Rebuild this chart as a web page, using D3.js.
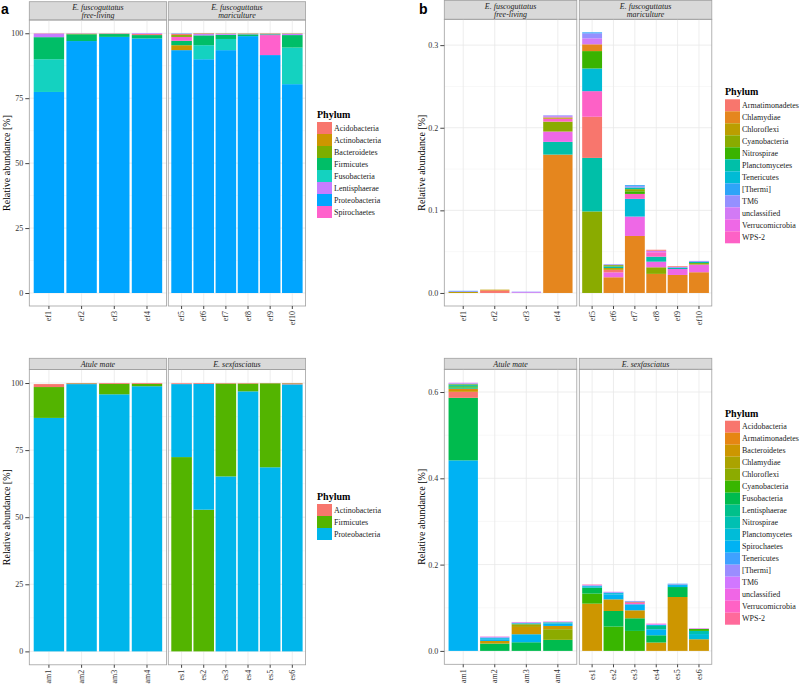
<!DOCTYPE html>
<html>
<head>
<meta charset="utf-8">
<script src="https://cdn.jsdelivr.net/npm/d3@7"></script>
<style>
  body { margin: 0; background: #fff; }
  svg { font-family: "Liberation Serif", "DejaVu Serif", serif; }
</style>
</head>
<body>
<svg id="chart" width="800" height="686"></svg>
<script>
// ---- samples ----
const freeLiving = ["ef1", "ef2", "ef3", "ef4"]
const mariculture = ["ef5", "ef6", "ef7", "ef8", "ef9", "ef10"]
const atule = ["am1", "am2", "am3", "am4"]
const sexfasciatus = ["es1", "es2", "es3", "es4", "es5", "es6"]

// ---- panel a, top: dominant phyla, E. fuscoguttatus (ef1..ef10, %) ----
const phylaTopA = ["Acidobacteria", "Actinobacteria", "Bacteroidetes", "Firmicutes",
  "Fusobacteria", "Lentisphaerae", "Proteobacteria", "Spirochaetes"]
const coloursTopA = ["#F8766D", "#CD9600", "#7CAE00", "#00BE67", "#14D2C0", "#C77CFF", "#00A5FF", "#FF61CC"]
const valuesTopA = {
  Acidobacteria:  [0.1, 0.1, 0.1, 0.4, 0.4, 0.1, 0.1, 0.1, 0.1, 0.1],
  Actinobacteria: [0, 0, 0, 0, 1.9, 0.1, 0, 0, 0, 0],
  Bacteroidetes:  [0, 0.2, 0.1, 0, 0.7, 0.1, 0.1, 0.1, 0.1, 0.1],
  Firmicutes:     [8.5, 2.6, 1.1, 1.3, 1.7, 3.8, 1.6, 0.7, 0.3, 4.8],
  Fusobacteria:   [12.6, 0, 0, 0, 0.1, 5.4, 4.3, 0, 0, 14.1],
  Lentisphaerae:  [1.4, 0.1, 0.1, 0.3, 0.2, 0.5, 0.4, 0.2, 0.2, 0.5],
  Proteobacteria: [77.4, 97.0, 98.6, 98.0, 93.5, 90.0, 93.5, 98.9, 91.6, 80.4],
  Spirochaetes:   [0, 0, 0, 0, 1.5, 0.1, 0, 0, 7.7, 0]
}

// ---- panel a, bottom: Atule mate / E. sexfasciatus (am1..am4, es1..es6, %) ----
const phylaBottomA = ["Actinobacteria", "Firmicutes", "Proteobacteria"]
const coloursBottomA = ["#F8766D", "#53B400", "#00B6EB"]
const valuesBottomA = {
  Actinobacteria: [1.1, 0.3, 0.3, 0.3, 0.3, 0.3, 0.2, 0.2, 0.1, 0.4],
  Firmicutes:     [11.5, 0.1, 3.9, 0.9, 72.4, 52.8, 34.6, 2.9, 31.3, 0.1],
  Proteobacteria: [87.0, 99.6, 95.8, 98.8, 27.2, 46.9, 65.2, 96.9, 68.6, 99.5]
}

// ---- panel b, top: rare phyla, E. fuscoguttatus (ef1..ef10, %) ----
const phylaTopB = ["Armatimonadetes", "Chlamydiae", "Chloroflexi", "Cyanobacteria", "Nitrospirae",
  "Planctomycetes", "Tenericutes", "[Thermi]", "TM6", "unclassified", "Verrucomicrobia", "WPS-2"]
const coloursTopB = ["#F8766D", "#E5861E", "#BB9E00", "#8AAB00", "#3AB300", "#00BFA8",
  "#00BBD5", "#2EA4F8", "#9590FF", "#D27AF5", "#EE68E6", "#FD61C6"]
const valuesTopB = {
  "Armatimonadetes": [0, 0.0028, 0, 0, 0.0498, 0.003, 0, 0.0012, 0.0009, 0],
  "Chlamydiae":      [0, 0.0008, 0, 0.1675, 0.0082, 0.019, 0.069, 0.0231, 0.0218, 0.0251],
  "Chloroflexi":     [0.0012, 0.0004, 0, 0.0016, 0, 0.0022, 0, 0, 0, 0],
  "Cyanobacteria":   [0, 0, 0, 0.012, 0.0987, 0.0015, 0.0026, 0.008, 0, 0.0018],
  "Nitrospirae":     [0, 0, 0, 0, 0.021, 0, 0.0032, 0, 0, 0],
  "Planctomycetes":  [0, 0, 0, 0.0154, 0.0648, 0.002, 0.002, 0.006, 0.0014, 0.0015],
  "Tenericutes":     [0, 0, 0, 0, 0.0275, 0, 0.0214, 0, 0, 0],
  "[Thermi]":        [0.0004, 0, 0, 0, 0.0012, 0, 0.0012, 0, 0, 0],
  "TM6":             [0.001, 0, 0.0006, 0.001, 0.006, 0.001, 0.0016, 0, 0.0011, 0.0011],
  "unclassified":    [0, 0, 0.001, 0.0015, 0.0073, 0, 0, 0.0018, 0, 0],
  "Verrucomicrobia": [0, 0, 0, 0.0125, 0, 0.006, 0.0235, 0.0068, 0.0072, 0.0093],
  "WPS-2":           [0, 0, 0, 0.0035, 0.031, 0, 0.006, 0.0054, 0, 0]
}

// ---- panel b, bottom: rare phyla, am1..am4, es1..es6 (%) ----
const phylaBottomB = ["Acidobacteria", "Armatimonadetes", "Bacteroidetes", "Chlamydiae", "Chloroflexi",
  "Cyanobacteria", "Fusobacteria", "Lentisphaerae", "Nitrospirae", "Planctomycetes", "Spirochaetes",
  "Tenericutes", "[Thermi]", "TM6", "unclassified", "Verrucomicrobia", "WPS-2"]
const coloursBottomB = ["#F8766D", "#E68613", "#CD9600", "#ABA300", "#8CAB00", "#39B600", "#00BB4E",
  "#00C08B", "#00C0B2", "#00BCD8", "#00B2F3", "#3FA1FF", "#9B8DFF", "#D177FF", "#F066E6", "#FF62C5", "#FF6A9B"]
const valuesBottomB = {
  "Acidobacteria":   [0.0139, 0, 0, 0, 0, 0, 0.002, 0, 0, 0],
  "Armatimonadetes": [0.003, 0, 0, 0, 0, 0, 0, 0, 0, 0],
  "Bacteroidetes":   [0.0042, 0.006, 0.0169, 0.0076, 0.1095, 0.027, 0.0185, 0.0194, 0.1249, 0.027],
  "Chlamydiae":      [0.0018, 0, 0.0062, 0, 0, 0, 0, 0, 0, 0],
  "Chloroflexi":     [0, 0, 0, 0.0246, 0, 0, 0, 0, 0, 0],
  "Cyanobacteria":   [0.0028, 0, 0, 0, 0.0232, 0.0564, 0.0463, 0, 0, 0.0045],
  "Fusobacteria":    [0.145, 0.017, 0.02, 0.0256, 0.0138, 0.0361, 0.0293, 0.0168, 0.0231, 0],
  "Lentisphaerae":   [0.0029, 0, 0.002, 0.0012, 0, 0, 0, 0.0077, 0, 0],
  "Nitrospirae":     [0.0027, 0, 0, 0, 0, 0, 0, 0, 0, 0.0073],
  "Planctomycetes":  [0.0015, 0.0025, 0, 0.0018, 0.0035, 0.003, 0.0015, 0.0025, 0.0015, 0.012],
  "Spirochaetes":    [0.4416, 0.004, 0.0186, 0.0056, 0, 0.0115, 0.014, 0.0139, 0.0046, 0],
  "Tenericutes":     [0, 0.0015, 0.0015, 0, 0.0015, 0.0015, 0, 0, 0.0007, 0],
  "[Thermi]":        [0, 0.001, 0, 0, 0, 0, 0, 0, 0, 0],
  "TM6":             [0.0012, 0, 0.001, 0.001, 0.001, 0.0008, 0.0012, 0.0015, 0.001, 0.0012],
  "unclassified":    [0.001, 0.0008, 0.0008, 0.0008, 0, 0.0007, 0, 0.0008, 0, 0],
  "Verrucomicrobia": [0, 0.0005, 0, 0, 0.0008, 0, 0.003, 0.0007, 0, 0.0005],
  "WPS-2":           [0, 0, 0, 0, 0.0007, 0, 0, 0, 0, 0]
}

const ticksA = [0, 25, 50, 75, 100]
const ticksTopB = [0, 0.1, 0.2, 0.3]
const ticksBottomB = [0, 0.2, 0.4, 0.6]

const svg = d3.select("#chart")

function drawPlot(cfg) {
  let g = svg.append("g")
  let samples = cfg.facets.flatMap(f => f.samples)
  let totals = samples.map((s, i) => d3.sum(cfg.phyla, p => cfg.values[p][i]))
  let top = d3.max(totals)
  let y = d3.scaleLinear()
    .domain([-top * 0.05, top * 1.05])
    .range([cfg.panelBottom, cfg.panelTop])
  let colour = d3.scaleOrdinal().domain(cfg.phyla).range(cfg.colours)
  let minor = d3.range(cfg.ticks.length - 1).map(i => (cfg.ticks[i] + cfg.ticks[i + 1]) / 2)
    .concat([cfg.ticks[cfg.ticks.length - 1] + (cfg.ticks[1] - cfg.ticks[0]) / 2])
    .filter(v => v < y.domain()[1])

  let index = 0
  cfg.facets.forEach((facet, fi) => {
    let x0 = cfg.left + fi * (cfg.panelWidth + cfg.gap)
    let x = d3.scaleBand()
      .domain(facet.samples)
      .range([x0, x0 + cfg.panelWidth])
      .paddingInner(0.07)
      .paddingOuter(0.135)

    // strip
    g.append("rect")
      .attr("x", x0).attr("y", cfg.stripTop)
      .attr("width", cfg.panelWidth).attr("height", cfg.panelTop - cfg.stripTop)
      .attr("fill", "#D9D9D9").attr("stroke", "#A0A0A0").attr("stroke-width", 0.8)
    facet.title.forEach((line, li) => {
      g.append("text")
        .attr("x", x0 + cfg.panelWidth / 2)
        .attr("y", cfg.stripText[li])
        .attr("text-anchor", "middle")
        .style("font-size", "8px").style("font-style", "italic").style("fill", "#222")
        .text(line)
    })

    // grid
    g.append("g").selectAll("line.minor").data(minor).enter().append("line")
      .attr("x1", x0).attr("x2", x0 + cfg.panelWidth)
      .attr("y1", d => y(d)).attr("y2", d => y(d))
      .attr("stroke", "#F3F3F3").attr("stroke-width", 0.6)
    g.append("g").selectAll("line.major").data(cfg.ticks).enter().append("line")
      .attr("x1", x0).attr("x2", x0 + cfg.panelWidth)
      .attr("y1", d => y(d)).attr("y2", d => y(d))
      .attr("stroke", "#E8E8E8").attr("stroke-width", 0.8)
    g.append("g").selectAll("line").data(facet.samples).enter().append("line")
      .attr("x1", d => x(d) + x.bandwidth() / 2).attr("x2", d => x(d) + x.bandwidth() / 2)
      .attr("y1", cfg.panelTop).attr("y2", cfg.panelBottom)
      .attr("stroke", "#E8E8E8").attr("stroke-width", 0.8)

    // stacked bars, largest phylum at the bottom
    facet.samples.forEach(sample => {
      let i = index++
      let parts = cfg.phyla
        .map(p => ({ phylum: p, value: cfg.values[p][i] }))
        .filter(d => d.value > 0)
      parts.sort((a, b) => b.value - a.value)
      let base = 0
      parts.forEach(d => { d.y0 = base; base += d.value; d.y1 = base })
      g.append("g").selectAll("rect").data(parts).enter().append("rect")
        .attr("x", x(sample))
        .attr("width", x.bandwidth())
        .attr("y", d => y(d.y1))
        .attr("height", d => y(d.y0) - y(d.y1))
        .attr("fill", d => colour(d.phylum))
    })

    // panel border
    g.append("rect")
      .attr("x", x0).attr("y", cfg.panelTop)
      .attr("width", cfg.panelWidth).attr("height", cfg.panelBottom - cfg.panelTop)
      .attr("fill", "none").attr("stroke", "#A0A0A0").attr("stroke-width", 0.8)

    // x axis
    let xAxis = g.append("g")
      .attr("transform", `translate(0, ${cfg.panelBottom})`)
      .call(d3.axisBottom(x).tickSize(3).tickSizeOuter(0))
    xAxis.select(".domain").remove()
    xAxis.attr("font-family", null).attr("font-size", null)
    xAxis.selectAll("line").attr("stroke", "#444")
    xAxis.selectAll("text")
      .attr("transform", "rotate(-90)")
      .attr("text-anchor", "end")
      .attr("x", -5).attr("y", 0).attr("dy", "0.32em")
      .style("font-size", "8px").style("fill", "#333")

    // y axis on first facet only
    if (fi === 0) {
      let yAxis = g.append("g")
        .attr("transform", `translate(${x0}, 0)`)
        .call(d3.axisLeft(y).tickValues(cfg.ticks).tickFormat(cfg.format).tickSize(4).tickSizeOuter(0))
      yAxis.select(".domain").remove()
      yAxis.attr("font-family", null).attr("font-size", null)
      yAxis.selectAll("line").attr("stroke", "#444")
      yAxis.selectAll("text").attr("x", -6).style("font-size", "8px").style("fill", "#333")
    }
  })

  // y title
  g.append("text")
    .attr("transform", `translate(${cfg.titleX}, ${(cfg.panelTop + cfg.panelBottom) / 2}) rotate(-90)`)
    .attr("text-anchor", "middle")
    .style("font-size", "10px")
    .text("Relative abundance [%]")

  // legend
  let legend = g.append("g").attr("transform", `translate(${cfg.legendX}, ${cfg.legendY})`)
  legend.append("text")
    .attr("x", 0).attr("y", -4)
    .style("font-size", "10px").style("font-weight", "bold")
    .text("Phylum")
  cfg.phyla.forEach((p, i) => {
    legend.append("rect")
      .attr("x", 0).attr("y", i * 12)
      .attr("width", 15).attr("height", 12)
      .attr("fill", colour(p))
    legend.append("text")
      .attr("x", 17).attr("y", i * 12 + 6).attr("dy", "0.35em")
      .style("font-size", "8px").style("fill", "#222")
      .text(p)
  })
}

const topFacets = [["E. fuscoguttatus", "free-living"], ["E. fuscoguttatus", "mariculture"]]
const bottomFacets = [["Atule mate"], ["E. sexfasciatus"]]

drawPlot({
  facets: [{ title: topFacets[0], samples: freeLiving }, { title: topFacets[1], samples: mariculture }],
  phyla: phylaTopA, colours: coloursTopA, values: valuesTopA,
  ticks: ticksA, format: d3.format("d"),
  left: 29.3, panelWidth: 137.3, gap: 1.7,
  stripTop: 1.7, panelTop: 20, panelBottom: 306, stripText: [10, 17.5],
  titleX: 9.5, legendX: 317, legendY: 122
})

drawPlot({
  facets: [{ title: bottomFacets[0], samples: atule }, { title: bottomFacets[1], samples: sexfasciatus }],
  phyla: phylaBottomA, colours: coloursBottomA, values: valuesBottomA,
  ticks: ticksA, format: d3.format("d"),
  left: 29.3, panelWidth: 137.3, gap: 1.7,
  stripTop: 358.3, panelTop: 369.6, panelBottom: 664.8, stripText: [366.8],
  titleX: 9.5, legendX: 317, legendY: 504
})

drawPlot({
  facets: [{ title: topFacets[0], samples: freeLiving }, { title: topFacets[1], samples: mariculture }],
  phyla: phylaTopB, colours: coloursTopB, values: valuesTopB,
  ticks: ticksTopB, format: d3.format(".1f"),
  left: 444.3, panelWidth: 132.5, gap: 2.5,
  stripTop: 0.5, panelTop: 19.3, panelBottom: 306, stripText: [9, 16.8],
  titleX: 425, legendX: 725, legendY: 99.3
})

drawPlot({
  facets: [{ title: bottomFacets[0], samples: atule }, { title: bottomFacets[1], samples: sexfasciatus }],
  phyla: phylaBottomB, colours: coloursBottomB, values: valuesBottomB,
  ticks: ticksBottomB, format: d3.format(".1f"),
  left: 444.3, panelWidth: 132.5, gap: 2.5,
  stripTop: 358.3, panelTop: 369.3, panelBottom: 664.3, stripText: [366.8],
  titleX: 425, legendX: 725, legendY: 420.7
})

// panel letters
svg.append("text").attr("x", 1).attr("y", 14)
  .style("font-family", "'Liberation Sans', Arial, sans-serif")
  .style("font-size", "14px").style("font-weight", "bold").text("a")
svg.append("text").attr("x", 419).attr("y", 14)
  .style("font-family", "'Liberation Sans', Arial, sans-serif")
  .style("font-size", "14px").style("font-weight", "bold").text("b")
</script>
</body>
</html>
